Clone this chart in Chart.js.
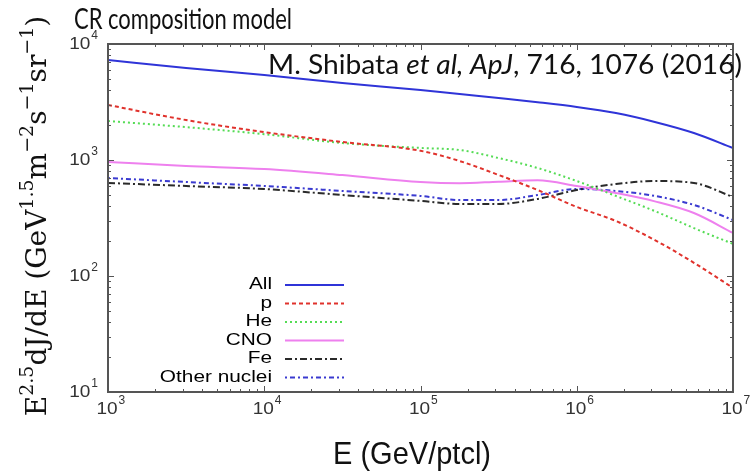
<!DOCTYPE html>
<html>
<head>
<meta charset="utf-8">
<script src="https://cdn.jsdelivr.net/npm/chart.js@4.4.0/dist/chart.umd.min.js"></script>
<style>
html, body { margin: 0; padding: 0; background: #fff; }
</style>
</head>
<body>
<canvas id="c" width="750" height="472"></canvas>
<script>
// energies in GeV/particle (log steps)
var energies = [1e3, 3.16e3, 1e4, 3.16e4, 1e5, 1.78e5, 3.16e5, 5.62e5, 1e6, 1.78e6, 3.16e6, 5.62e6, 1e7];

var allFlux   = [7280, 6210, 5400, 4610, 4010, 3700, 3420, 3150, 2870, 2540, 2130, 1710, 1270];
var pFlux     = [2980, 2210, 1740, 1430, 1200, 980, 743, 551, 394, 298, 204, 130, 79];
var heFlux    = [2170, 1920, 1670, 1400, 1270, 1220, 1040, 853, 659, 490, 363, 259, 189];
var cnoFlux   = [961, 888, 836, 742, 646, 630, 650, 668, 597, 520, 440, 349, 235];
var feFlux    = [634, 597, 562, 499, 444, 418, 418, 462, 551, 621, 659, 634, 480];
var otherFlux = [699, 646, 597, 541, 490, 452, 452, 499, 562, 541, 490, 410, 304];

var seriesNames = ["All", "p", "He", "CNO", "Fe", "Other nuclei"];
var xTicks = [1e3, 1e4, 1e5, 1e6, 1e7];
var yTicks = [1e1, 1e2, 1e3, 1e4];

function pts(arr) {
    var out = [];
    for (var i = 0; i < energies.length; i++) out.push({x: energies[i], y: arr[i]});
    return out;
}

function line(label, arr, color, dash) {
    return {
        label: label,
        data: pts(arr),
        borderColor: color,
        backgroundColor: color,
        borderWidth: 2,
        borderDash: dash,
        pointRadius: 0,
        fill: false,
        cubicInterpolationMode: 'monotone'
    };
}

var datasets = [
    line(seriesNames[0], allFlux, "#2f34d8", []),
    line(seriesNames[1], pFlux, "#e0322c", [4, 3]),
    line(seriesNames[2], heFlux, "#55dc55", [2, 3]),
    line(seriesNames[3], cnoFlux, "#ee80ee", []),
    line(seriesNames[4], feFlux, "#2a2a2a", [7, 3, 2, 3]),
    line(seriesNames[5], otherFlux, "#3a3ad0", [2, 3, 5, 3])
];

// draw "10" with a raised exponent
function drawPow(ctx, exp, x, y, align) {
    ctx.save();
    ctx.fillStyle = "#333";
    ctx.textBaseline = "middle";
    ctx.textAlign = "left";
    ctx.font = "17px 'Liberation Sans'";
    var wBase = ctx.measureText("10").width * 1.12;
    ctx.font = "12px 'Liberation Sans'";
    var wExp = ctx.measureText(String(exp)).width;
    var start = align === "right" ? x - wBase - wExp - 1 : x - wBase / 2 - 1;
    ctx.translate(start, y);
    ctx.save();
    ctx.scale(1.12, 1);
    ctx.font = "17px 'Liberation Sans'";
    ctx.fillText("10", 0, 0);
    ctx.restore();
    ctx.font = "12px 'Liberation Sans'";
    ctx.fillText(String(exp), wBase + 1, -8);
    ctx.restore();
}

// text squeezed/stretched to a given width
function fitText(ctx, txt, font, x, y, width) {
    ctx.save();
    ctx.font = font;
    var w = ctx.measureText(txt).width;
    ctx.translate(x, y);
    ctx.scale(width / w, 1);
    ctx.fillText(txt, 0, 0);
    ctx.restore();
}

var decor = {
    id: 'decor',
    afterDraw: function(chart) {
        var ctx = chart.ctx;
        var a = chart.chartArea;
        var xs = chart.scales.x, ys = chart.scales.y;
        ctx.save();

        // inward tick marks on all sides
        ctx.strokeStyle = "#555";
        ctx.lineWidth = 1;
        var d, m, v, p;
        for (d = 3; d < 7; d++) {
            for (m = 1; m < 10; m++) {
                v = m * Math.pow(10, d);
                p = Math.round(xs.getPixelForValue(v)) + 0.5;
                var len = m === 1 ? 6 : 3;
                ctx.beginPath();
                ctx.moveTo(p, a.bottom); ctx.lineTo(p, a.bottom - len);
                ctx.moveTo(p, a.top); ctx.lineTo(p, a.top + len);
                ctx.stroke();
            }
        }
        for (d = 1; d < 4; d++) {
            for (m = 1; m < 10; m++) {
                v = m * Math.pow(10, d);
                p = Math.round(ys.getPixelForValue(v)) + 0.5;
                var l2 = m === 1 ? 6 : 3;
                ctx.beginPath();
                ctx.moveTo(a.left, p); ctx.lineTo(a.left + l2, p);
                ctx.moveTo(a.right, p); ctx.lineTo(a.right - l2, p);
                ctx.stroke();
            }
        }

        // frame
        ctx.strokeStyle = "#555";
        ctx.lineWidth = 2;
        ctx.strokeRect(a.left, a.top, a.right - a.left, a.bottom - a.top);

        // tick labels
        for (var i = 0; i < xTicks.length; i++) {
            drawPow(ctx, Math.round(Math.log10(xTicks[i])), xs.getPixelForValue(xTicks[i]), a.bottom + 17, "center");
        }
        for (var j = 0; j < yTicks.length; j++) {
            drawPow(ctx, Math.round(Math.log10(yTicks[j])), a.left - 10, ys.getPixelForValue(yTicks[j]), "right");
        }

        // legend inside the plot
        var lx = 272, ly = 285, step = 18.5;
        for (var k = 0; k < chart.data.datasets.length; k++) {
            var ds = chart.data.datasets[k];
            var yy = ly + k * step;
            ctx.save();
            ctx.fillStyle = "#000";
            ctx.textAlign = "right";
            ctx.textBaseline = "middle";
            ctx.font = "16px 'Liberation Sans'";
            ctx.translate(lx, yy);
            ctx.scale(1.3, 1);
            ctx.fillText(ds.label, 0, 0);
            ctx.restore();
            ctx.save();
            ctx.strokeStyle = ds.borderColor;
            ctx.lineWidth = 2;
            ctx.setLineDash(ds.borderDash);
            ctx.beginPath();
            ctx.moveTo(285, yy);
            ctx.lineTo(344, yy);
            ctx.stroke();
            ctx.restore();
        }

        // chart title
        ctx.fillStyle = "#111";
        ctx.textBaseline = "alphabetic";
        ctx.textAlign = "left";
        fitText(ctx, "CR composition model", "28px Lato", 74, 29, 218);

        // reference note
        var parts = [["M. Shibata ", "normal"], ["et al, ApJ", "italic"], [", 716, 1076 (2016)", "normal"]];
        var tw = 0, q;
        for (q = 0; q < parts.length; q++) {
            ctx.font = parts[q][1] + " 27px Lato";
            tw += ctx.measureText(parts[q][0]).width;
        }
        var sx = 474 / tw;
        ctx.save();
        ctx.translate(268, 74);
        ctx.scale(sx, 1);
        var tx = 0;
        for (q = 0; q < parts.length; q++) {
            ctx.font = parts[q][1] + " 27px Lato";
            ctx.fillText(parts[q][0], tx, 0);
            tx += ctx.measureText(parts[q][0]).width;
        }
        ctx.restore();

        // x title
        fitText(ctx, "E (GeV/ptcl)", "32px 'Liberation Sans'", 333, 464, 158);

        // y title with superscripts
        var yt = [["E", 0], ["2.5", 1], ["dJ/dE (GeV", 0], ["1.5", 1], ["m", 0], ["\u22122", 1], ["s", 0], ["\u22121", 1], ["sr", 0], ["\u22121", 1], [")", 0]];
        var total = 0, n;
        for (n = 0; n < yt.length; n++) {
            ctx.font = yt[n][1] ? "19px 'DejaVu Serif'" : "28px 'DejaVu Serif'";
            total += ctx.measureText(yt[n][0]).width;
        }
        ctx.save();
        ctx.translate(46, 216);
        ctx.rotate(-Math.PI / 2);
        ctx.textAlign = "left";
        var cx = -total / 2;
        for (n = 0; n < yt.length; n++) {
            ctx.font = yt[n][1] ? "19px 'DejaVu Serif'" : "28px 'DejaVu Serif'";
            ctx.fillText(yt[n][0], cx, yt[n][1] ? -13 : 0);
            cx += ctx.measureText(yt[n][0]).width;
        }
        ctx.restore();

        ctx.restore();
    }
};

var myChart = new Chart(document.getElementById('c'), {
    type: 'line',
    data: { datasets: datasets },
    options: {
        responsive: false,
        devicePixelRatio: 1,
        animation: false,
        layout: { padding: { top: 44, right: 17, left: 0, bottom: 0 } },
        plugins: { legend: { display: false }, tooltip: { enabled: false } },
        scales: {
            x: {
                type: 'logarithmic',
                min: 1e3, max: 1e7,
                grid: { display: false },
                border: { display: false },
                ticks: { display: false },
                afterFit: function(s) { s.height = 80; }
            },
            y: {
                type: 'logarithmic',
                min: 10, max: 1e4,
                grid: { display: false },
                border: { display: false },
                ticks: { display: false },
                afterFit: function(s) { s.width = 108; }
            }
        }
    },
    plugins: [decor]
});
</script>
</body>
</html>
